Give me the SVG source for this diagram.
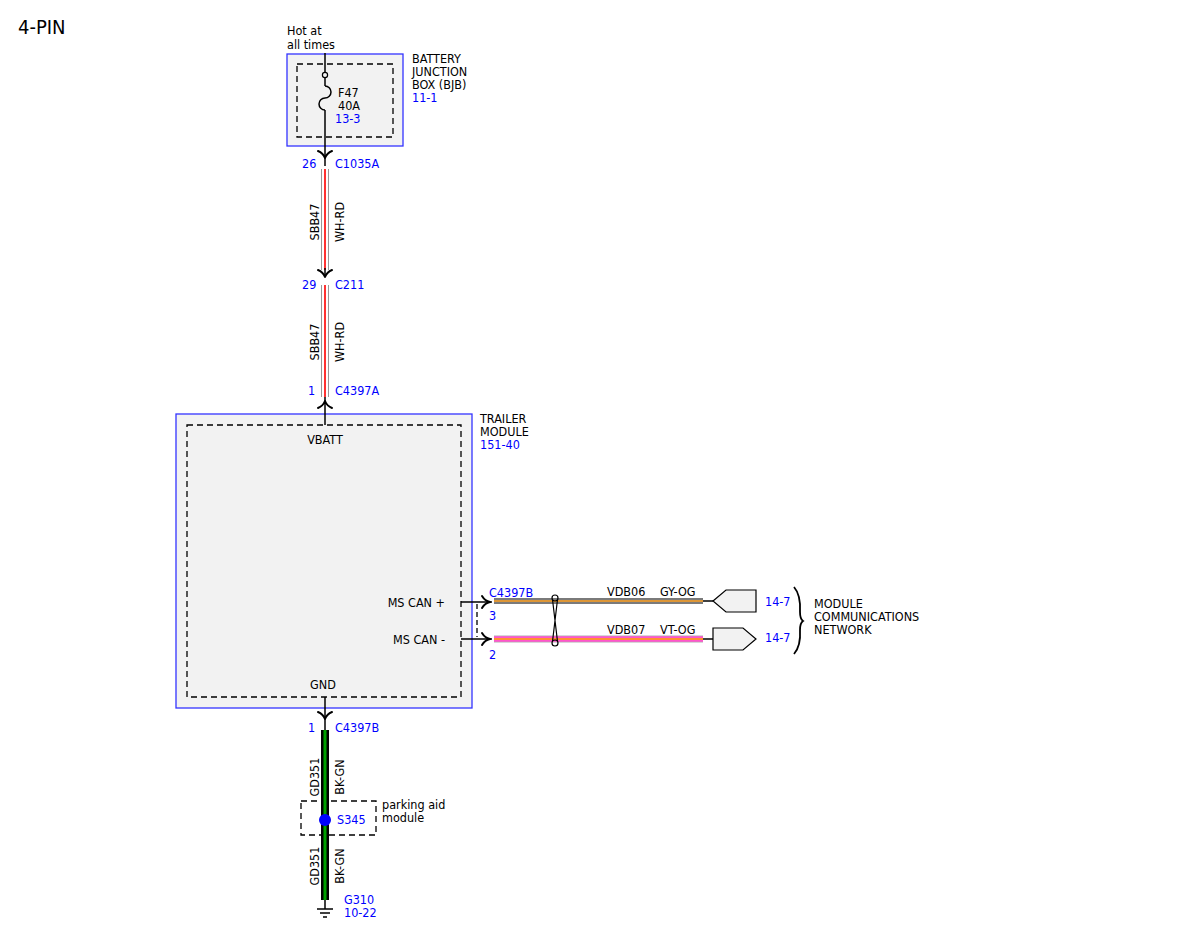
<svg xmlns="http://www.w3.org/2000/svg" width="1200" height="927" viewBox="0 0 1200 927">
<style>
text{font-family:"DejaVu Sans Condensed","Liberation Sans",sans-serif;font-size:12.5px;fill:#000}
.b{fill:#0000ff}
.t{font-size:20px}
.mid{text-anchor:middle}
.end{text-anchor:end}
.box{fill:#f2f2f2;stroke:#3333ff;stroke-width:1.3}
.dash{fill:none;stroke:#000;stroke-width:1.3;stroke-dasharray:6,4}
.ln{fill:none;stroke:#000;stroke-width:1.5}
.arr{fill:none;stroke:#000;stroke-width:2;stroke-linecap:round;stroke-linejoin:round}
</style>
<rect width="1200" height="927" fill="#fff"/>
<text class="t" x="18" y="34">4-PIN</text>

<g id="bjb">
<rect class="box" x="287" y="54" width="116" height="92"/>
<rect class="dash" x="297" y="64" width="96" height="73"/>
<text x="287" y="35">Hot at</text>
<text x="287" y="49">all times</text>
<text x="412" y="63">BATTERY</text>
<text x="412" y="76">JUNCTION</text>
<text x="412" y="89">BOX (BJB)</text>
<text class="b" x="412" y="102">11-1</text>
<line class="ln" x1="325" y1="53" x2="325" y2="72"/>
<circle cx="325" cy="75" r="2.6" fill="none" stroke="#000" stroke-width="1.2"/>
<line class="ln" x1="325" y1="78" x2="325" y2="86"/>
<path class="ln" d="M325,86 a6,6 0 0 1 0,12 a6,6 0 0 0 0,12"/>
<line class="ln" x1="325" y1="110" x2="325" y2="166"/>
<text x="338" y="97">F47</text>
<text x="338" y="110">40A</text>
<text class="b" x="335" y="123">13-3</text>
</g>

<g id="trailer">
<rect class="box" x="176" y="414" width="296" height="294"/>
<rect class="dash" x="187" y="425" width="274" height="272"/>
<text x="480" y="423">TRAILER</text>
<text x="480" y="436">MODULE</text>
<text class="b" x="480" y="449">151-40</text>
<text class="mid" x="325" y="444">VBATT</text>
<text class="mid" x="323" y="689">GND</text>
<text class="end" x="445" y="607">MS CAN +</text>
<text class="end" x="445" y="644">MS CAN -</text>
</g>

<g id="s345">
<rect class="dash" x="301" y="801" width="75" height="34"/>
<text x="382" y="809">parking aid</text>
<text x="382" y="822">module</text>
</g>

<g id="mcn">
<path d="M713,601 L726,590 L756,590 L756,612 L726,612 Z" fill="#f2f2f2" stroke="#000" stroke-width="1.2"/>
<path d="M713,628 L743,628 L756,639 L743,650 L713,650 Z" fill="#f2f2f2" stroke="#000" stroke-width="1.2"/>
<text class="b" x="765" y="606">14-7</text>
<text class="b" x="765" y="642">14-7</text>
<path d="M794,587 Q801,595 800,612 Q800,619 803,621 Q800,623 800,630 Q801,646 794,654" fill="none" stroke="#000" stroke-width="1.8"/>
<text x="814" y="608">MODULE</text>
<text x="814" y="621">COMMUNICATIONS</text>
<text x="814" y="634">NETWORK</text>
</g>

<g id="connectors">
<path class="arr" d="M318,151 Q323,153 325,158 Q327,153 332,151"/>
<text class="b" x="302" y="168">26</text>
<text class="b" x="335" y="168">C1035A</text>
<line x1="325" y1="169" x2="325" y2="270" stroke="#999" stroke-width="8"/>
<line x1="325" y1="169" x2="325" y2="270" stroke="#fff" stroke-width="6"/>
<line x1="325" y1="169" x2="325" y2="270" stroke="#ff3333" stroke-width="2"/>
<text x="319" y="222" class="mid" transform="rotate(-90 319 222)">SBB47</text>
<text x="344" y="222" class="mid" transform="rotate(-90 344 222)">WH-RD</text>
<line class="ln" x1="325" y1="268" x2="325" y2="277"/>
<path class="arr" d="M318,270 Q323,272 325,277 Q327,272 332,270"/>
<text class="b" x="302" y="289">29</text>
<text class="b" x="335" y="289">C211</text>
<line x1="325" y1="285" x2="325" y2="397" stroke="#999" stroke-width="8"/>
<line x1="325" y1="285" x2="325" y2="397" stroke="#fff" stroke-width="6"/>
<line x1="325" y1="285" x2="325" y2="397" stroke="#ff3333" stroke-width="2"/>
<text x="319" y="342" class="mid" transform="rotate(-90 319 342)">SBB47</text>
<text x="344" y="342" class="mid" transform="rotate(-90 344 342)">WH-RD</text>
<text class="b" x="308" y="395">1</text>
<text class="b" x="335" y="395">C4397A</text>
<line class="ln" x1="325" y1="397" x2="325" y2="425"/>
<path class="arr" d="M318,408 Q323,406 325,401 Q327,406 332,408"/>

<line class="ln" x1="461" y1="602" x2="492" y2="602"/>
<line class="ln" x1="461" y1="639" x2="492" y2="639"/>
<path class="arr" d="M482,596 Q485,601 490,602 Q485,603 482,608"/>
<path class="arr" d="M482,633 Q485,638 490,639 Q485,640 482,645"/>
<line x1="477" y1="604" x2="477" y2="637" stroke="#000" stroke-width="1.3" stroke-dasharray="5,3"/>
<text class="b" x="489" y="597">C4397B</text>
<text class="b" x="489" y="620">3</text>
<text class="b" x="489" y="659">2</text>
<line x1="494" y1="601" x2="703" y2="601" stroke="#7a7a7a" stroke-width="6"/>
<line x1="494" y1="601" x2="703" y2="601" stroke="#ffa020" stroke-width="1.6"/>
<line x1="494" y1="639" x2="703" y2="639" stroke="#b0b0b0" stroke-width="7"/>
<line x1="494" y1="639" x2="703" y2="639" stroke="#ff55cc" stroke-width="5.5"/>
<line x1="494" y1="639" x2="703" y2="639" stroke="#ff9030" stroke-width="2"/>
<line class="ln" x1="703" y1="601" x2="713" y2="601"/>
<line class="ln" x1="703" y1="639" x2="713" y2="639"/>
<text x="607" y="596">VDB06</text>
<text x="660" y="596">GY-OG</text>
<text x="607" y="634">VDB07</text>
<text x="660" y="634">VT-OG</text>
<circle cx="555" cy="598" r="3" fill="none" stroke="#000" stroke-width="1.2"/>
<circle cx="555" cy="643" r="3" fill="none" stroke="#000" stroke-width="1.2"/>
<path d="M552.5,599.5 L557.5,641.5 M557.5,599.5 L552.5,641.5" fill="none" stroke="#000" stroke-width="1.2"/>

<line class="ln" x1="325" y1="697" x2="325" y2="730"/>
<path class="arr" d="M318,712 Q323,714 325,719 Q327,714 332,712"/>
<text class="b" x="308" y="732">1</text>
<text class="b" x="335" y="732">C4397B</text>
<line x1="325" y1="730" x2="325" y2="900" stroke="#000" stroke-width="8"/>
<line x1="325" y1="730" x2="325" y2="900" stroke="#00a000" stroke-width="3"/>
<text x="319" y="777" class="mid" transform="rotate(-90 319 777)">GD351</text>
<text x="344" y="777" class="mid" transform="rotate(-90 344 777)">BK-GN</text>
<circle cx="325" cy="820" r="6" fill="#0000ff"/>
<text class="b" x="337" y="824">S345</text>
<text x="319" y="866" class="mid" transform="rotate(-90 319 866)">GD351</text>
<text x="344" y="866" class="mid" transform="rotate(-90 344 866)">BK-GN</text>
<line class="ln" x1="325" y1="900" x2="325" y2="909"/>
<line class="ln" x1="317" y1="909" x2="333" y2="909"/>
<line class="ln" x1="320" y1="913" x2="330" y2="913"/>
<line class="ln" x1="323" y1="917" x2="327" y2="917"/>
<text class="b" x="344" y="904">G310</text>
<text class="b" x="344" y="917">10-22</text>
</g>
</svg>
